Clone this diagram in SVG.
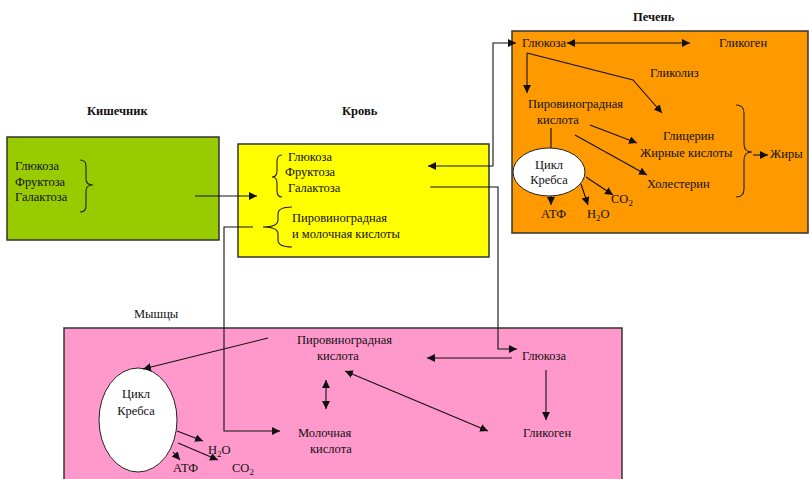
<svg xmlns="http://www.w3.org/2000/svg" width="810" height="479" viewBox="0 0 810 479">
  <style>
    text { font-family: "Liberation Serif", "Times New Roman", serif; font-size: 12.5px; fill: #111; }
    .title { font-weight: bold; }
    .box { stroke: #333; stroke-width: 1.5; }
    .line { fill: none; stroke: #111; stroke-width: 1.1; }
    .brace { fill: none; stroke: #222; stroke-width: 1.1; }
    .cell { fill: #fff; stroke: #222; stroke-width: 1; }
    .sub { font-size: 9px; }
  </style>
  <defs>
    <marker id="arrow" markerUnits="userSpaceOnUse" markerWidth="9" markerHeight="8" refX="8" refY="4" orient="auto-start-reverse">
      <path d="M0,0 L8,4 L0,8 z" fill="#111"/>
    </marker>
  </defs>

  <!-- Intestine -->
  <g id="intestine">
    <text class="title" x="87" y="115">Кишечник</text>
    <rect class="box" x="7" y="137" width="212" height="103" fill="#99cc00"/>
    <text x="15" y="170">Глюкоза</text>
    <text x="15" y="186">Фруктоза</text>
    <text x="15" y="201">Галактоза</text>
    <path class="brace" d="M80,160 Q86,160 86,166 L86,179 Q86,185 93,185 Q86,185 86,191 L86,206 Q86,212 80,212"/>
  </g>

  <!-- Blood -->
  <g id="blood">
    <text class="title" x="342" y="115">Кровь</text>
    <rect class="box" x="238" y="144" width="251" height="113" fill="#ffff00"/>
    <text x="288" y="161">Глюкоза</text>
    <text x="285" y="176">Фруктоза</text>
    <text x="288" y="192">Галактоза</text>
    <path class="brace" d="M282,155 Q277,155 277,161 L277,171 Q277,177 272,177 Q277,177 277,183 L277,191 Q277,197 282,197"/>
    <text x="292" y="222">Пировиноградная</text>
    <text x="292" y="238">и молочная кислоты</text>
    <path class="brace" d="M292,207 Q278,207 278,214 L278,220 Q278,227 263,227 Q278,227 278,234 L278,240 Q278,247 292,247"/>
  </g>

  <!-- Liver -->
  <g id="liver">
    <text class="title" x="633" y="21">Печень</text>
    <rect class="box" x="512" y="31" width="296" height="202" fill="#ff9900"/>
    <text x="522" y="47">Глюкоза</text>
    <text x="719" y="47">Гликоген</text>
    <text x="650" y="77">Гликолиз</text>
    <text x="528" y="108">Пировиноградная</text>
    <text x="537" y="124">кислота</text>
    <text x="663" y="140">Глицерин</text>
    <text x="640" y="157">Жирные кислоты</text>
    <text x="647" y="188">Холестерин</text>
    <path class="brace" d="M736,105 Q744,105 744,113 L744,144 Q744,152 752,152 Q744,152 744,160 L744,189 Q744,197 736,197"/>
    <text x="770" y="158">Жиры</text>
    <ellipse class="cell" cx="549" cy="172" rx="36" ry="24"/>
    <text x="549" y="169" text-anchor="middle">Цикл</text>
    <text x="549" y="184" text-anchor="middle">Кребса</text>
    <text x="541" y="218">АТФ</text>
    <text x="587" y="218">H<tspan class="sub" dy="3">2</tspan><tspan dy="-3">O</tspan></text>
    <text x="611" y="203">CO<tspan class="sub" dy="3">2</tspan></text>
  </g>

  <!-- Muscles -->
  <g id="muscles">
    <text x="134" y="318">Мышцы</text>
    <rect class="box" x="64" y="328" width="558" height="160" fill="#ff99cc"/>
    <text x="297" y="344">Пировиноградная</text>
    <text x="317" y="360">кислота</text>
    <text x="522" y="360">Глюкоза</text>
    <text x="523" y="437">Гликоген</text>
    <text x="298" y="437">Молочная</text>
    <text x="310" y="453">кислота</text>
    <ellipse class="cell" cx="138" cy="420" rx="39" ry="52"/>
    <text x="136" y="398" text-anchor="middle">Цикл</text>
    <text x="136" y="415" text-anchor="middle">Кребса</text>
    <text x="208" y="454">H<tspan class="sub" dy="3">2</tspan><tspan dy="-3">O</tspan></text>
    <text x="173" y="472">АТФ</text>
    <text x="232" y="472">CO<tspan class="sub" dy="3">2</tspan></text>
  </g>

  <!-- Connectors -->
  <g id="connectors">
    <!-- intestine to blood -->
    <path class="line" d="M195,196 L257,196" marker-end="url(#arrow)"/>
    <!-- blood glucose to liver -->
    <path class="line" d="M428,166 L493,166 L493,43 L516,43" marker-start="url(#arrow)" marker-end="url(#arrow)"/>
    <!-- blood glucose to muscle -->
    <path class="line" d="M430,187 L498,187 L498,349 L517,349" marker-end="url(#arrow)"/>
    <!-- blood acids to muscle lactate -->
    <path class="line" d="M253,227 L224,227 L224,431 L280,431" marker-end="url(#arrow)"/>

    <!-- liver -->
    <path class="line" d="M567,43 L690,43" marker-start="url(#arrow)" marker-end="url(#arrow)"/>
    <path class="line" d="M527,53 L527,93" marker-end="url(#arrow)"/>
    <path class="line" d="M527,53 L633,80 L662,113" marker-end="url(#arrow)"/>
    <path class="line" d="M551,128 L551,148"/>
    <path class="line" d="M590,125 L637,143" marker-end="url(#arrow)"/>
    <path class="line" d="M575,135 L647,175" marker-end="url(#arrow)"/>
    <path class="line" d="M753,155 L768,155" marker-end="url(#arrow)"/>
    <path class="line" d="M551,196 L551,205" marker-end="url(#arrow)"/>
    <path class="line" d="M581,184 L588,205" marker-end="url(#arrow)"/>
    <path class="line" d="M586,177 L613,195" marker-end="url(#arrow)"/>

    <!-- muscle -->
    <path class="line" d="M512,358 L427,358" marker-end="url(#arrow)"/>
    <path class="line" d="M546,370 L546,420" marker-end="url(#arrow)"/>
    <path class="line" d="M326,380 L326,409" marker-start="url(#arrow)" marker-end="url(#arrow)"/>
    <path class="line" d="M345,371 L488,431" marker-start="url(#arrow)" marker-end="url(#arrow)"/>
    <path class="line" d="M268,338 L143,369" marker-end="url(#arrow)"/>
    <path class="line" d="M177,431 L203,441" marker-end="url(#arrow)"/>
    <path class="line" d="M178,443 L218,460" marker-end="url(#arrow)"/>
    <path class="line" d="M173,452 L180,460" marker-end="url(#arrow)"/>
  </g>
</svg>
